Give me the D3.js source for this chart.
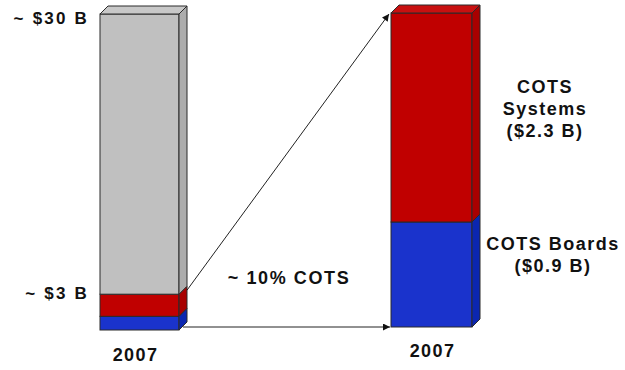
<!DOCTYPE html>
<html>
<head>
<meta charset="utf-8">
<script src="https://cdn.jsdelivr.net/npm/d3@7"></script>
<style>
  body { margin: 0; background: #fff; }
  text { font-family: "Liberation Sans", Arial, sans-serif; font-weight: bold; fill: #111; }
</style>
</head>
<body>
<svg id="chart" width="625" height="370"></svg>
<script>
// values as drawn in the picture (billions of $)
var segments = ["COTS Boards", "COTS Systems", "Other"];
var marketValues = [1.3, 2.1, 26.6];   // whole market, ~ $30 B
var cotsValues = [1.07, 2.13];          // zoom on the COTS part
var yearLabels = ["2007", "2007"];
var marketTickValues = [30, 3];
var marketTickLabels = ["~ $30 B", "~ $3 B"];
var cotsLabels = [["COTS Boards", "($0.9 B)"], ["COTS", "Systems", "($2.3 B)"]];
var middleLabel = "~ 10% COTS";

var colors = { "COTS Boards": "#1a33cc", "COTS Systems": "#c00000", "Other": "#c0c0c0" };
var sideColors = { "COTS Boards": "#0b26b0", "COTS Systems": "#a80000", "Other": "#adadad" };
var topColors = { "COTS Boards": "#3350dd", "COTS Systems": "#c81010", "Other": "#c8c8c8" };

var svg = d3.select("#chart");
var depth = 8;

// one scale per bar
var yLeft = d3.scaleLinear().domain([0, d3.sum(marketValues)]).range([330, 14]);
var yRight = d3.scaleLinear().domain([0, d3.sum(cotsValues)]).range([327, 13]);
var xLeft = d3.scaleBand().domain(["2007"]).range([100, 179]);
var xRight = d3.scaleBand().domain(["2007"]).range([391, 472]);

function stackOf(values) {
  var acc = 0;
  return values.map(function(v, i) {
    var s = { key: segments[i], y0: acc, y1: acc + v };
    acc += v;
    return s;
  });
}

function drawBar(values, x, y) {
  var g = svg.append("g");
  var data = stackOf(values);
  var x0 = x("2007"), x1 = x0 + x.bandwidth();
  var top = data[data.length - 1];

  // front faces
  g.selectAll("rect.front").data(data).enter().append("rect")
    .attr("class", "front")
    .attr("x", x0)
    .attr("y", function(d) { return y(d.y1); })
    .attr("width", x.bandwidth())
    .attr("height", function(d) { return y(d.y0) - y(d.y1); })
    .attr("fill", function(d) { return colors[d.key]; })
    .attr("stroke", "#2a2a2a").attr("stroke-width", 1);

  // side faces
  g.selectAll("path.side").data(data).enter().append("path")
    .attr("class", "side")
    .attr("d", function(d) {
      var a = y(d.y1), b = y(d.y0);
      return "M" + x1 + "," + a + "L" + (x1 + depth) + "," + (a - depth) +
        "L" + (x1 + depth) + "," + (b - depth) + "L" + x1 + "," + b + "Z";
    })
    .attr("fill", function(d) { return sideColors[d.key]; })
    .attr("stroke", "#2a2a2a").attr("stroke-width", 1);

  // top face
  var t = y(top.y1);
  g.append("path")
    .attr("d", "M" + x0 + "," + t + "L" + (x0 + depth) + "," + (t - depth) +
      "L" + (x1 + depth) + "," + (t - depth) + "L" + x1 + "," + t + "Z")
    .attr("fill", topColors[top.key])
    .attr("stroke", "#2a2a2a").attr("stroke-width", 1);

  return { x0: x0, x1: x1, data: data };
}

var left = drawBar(marketValues, xLeft, yLeft);
var right = drawBar(cotsValues, xRight, yRight);

// arrow head
svg.append("defs").append("marker")
  .attr("id", "arrow")
  .attr("viewBox", "0 0 10 10")
  .attr("refX", 10).attr("refY", 5)
  .attr("markerWidth", 9).attr("markerHeight", 7)
  .attr("markerUnits", "userSpaceOnUse")
  .attr("orient", "auto")
  .append("path").attr("d", "M0,0L10,5L0,10Z").attr("fill", "#111");

var cotsTop = left.data[1].y1;
svg.append("line")
  .attr("x1", left.x1 + depth).attr("y1", yLeft(cotsTop) - depth + 4)
  .attr("x2", right.x0 - 2).attr("y2", yRight(d3.sum(cotsValues)) + 1)
  .attr("stroke", "#222").attr("stroke-width", 1)
  .attr("marker-end", "url(#arrow)");

svg.append("line")
  .attr("x1", left.x1 + 4).attr("y1", yRight(0))
  .attr("x2", right.x0 - 1).attr("y2", yRight(0))
  .attr("stroke", "#222").attr("stroke-width", 1)
  .attr("marker-end", "url(#arrow)");

// value labels on the left bar (top one sits below the bar top)
svg.selectAll("text.tick").data(marketTickValues).enter().append("text")
  .attr("class", "tick")
  .attr("x", 89)
  .attr("y", function(d, i) { return yLeft(d) + (i === 0 ? 10 : 1); })
  .attr("text-anchor", "end")
  .style("font-size", "17px")
  .style("letter-spacing", "2.2px")
  .text(function(d, i) { return marketTickLabels[i]; });

// years
svg.selectAll("text.year").data([left, right]).enter().append("text")
  .attr("class", "year")
  .attr("x", function(d, i) { return (d.x0 + d.x1) / 2 + (i === 0 ? -4 : 1); })
  .attr("y", function(d, i) { return i === 0 ? 361 : 357; })
  .attr("text-anchor", "middle")
  .style("font-size", "18px")
  .style("letter-spacing", "1.4px")
  .text(function(d, i) { return yearLabels[i]; });

// segment labels beside the right bar
var labelPos = [
  { x: 553, y: 250 },
  { x: 545, y: 93 }
];
cotsLabels.forEach(function(lines, i) {
  var t = svg.append("text")
    .attr("text-anchor", "middle")
    .style("font-size", "18px")
    .style("letter-spacing", "1.5px");
  lines.forEach(function(line, j) {
    t.append("tspan")
      .attr("x", labelPos[i].x)
      .attr("y", labelPos[i].y + j * 22)
      .text(line);
  });
});

svg.append("text")
  .attr("x", 289).attr("y", 284)
  .attr("text-anchor", "middle")
  .style("font-size", "18px")
  .style("letter-spacing", "1.6px")
  .text(middleLabel);
</script>
</body>
</html>
